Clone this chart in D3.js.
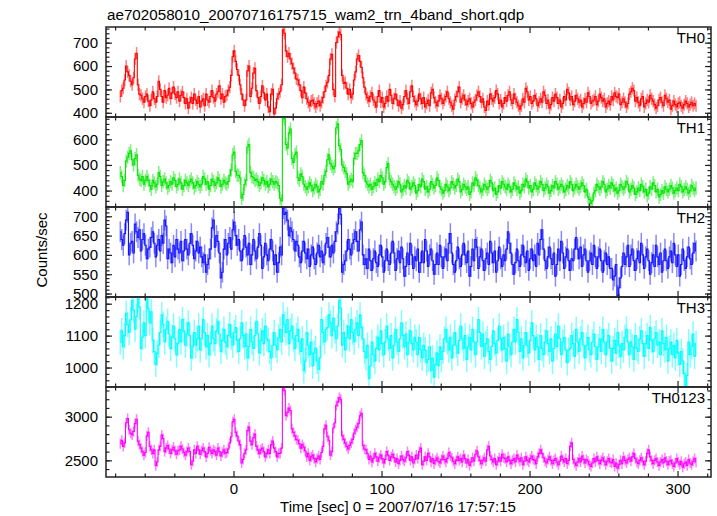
<!DOCTYPE html>
<html><head><meta charset="utf-8">
<script src="https://cdn.jsdelivr.net/npm/d3@7"></script>
<style>body{margin:0;background:#fff}svg{display:block;font-family:"Liberation Sans",Arial,Helvetica,sans-serif}</style>
</head><body><svg id="c" width="717" height="516"></svg>
<script>
const titleText = "ae702058010_20070716175715_wam2_trn_4band_short.qdp";
const xLabelText = "Time [sec] 0 = 2007/07/16 17:57:15";
const yLabelText = "Counts/sec";
const tStart = -76.5, binSize = 1;
const xTicksMajor = [0, 100, 200, 300];
const xTickLabels = ["0", "100", "200", "300"];

const th0 = [
470,495,505,540,600,575,560,535,520,550,630,655,520,480,475,460,445,470,480,450,
430,455,490,460,445,470,535,500,470,445,495,465,475,505,460,485,510,480,465,490,
450,475,490,465,440,460,420,445,465,440,480,455,440,470,425,450,460,430,480,455,
445,470,495,465,450,480,490,515,460,480,445,470,475,495,510,560,640,665,620,585,
560,520,480,455,430,455,580,600,470,505,570,590,495,465,440,470,515,485,455,480,
425,405,480,500,395,420,460,480,490,520,755,740,665,640,655,630,610,590,570,545,
540,520,495,465,510,485,460,445,430,450,455,440,425,440,450,430,445,465,490,515,
530,560,630,650,500,470,700,725,745,735,560,525,530,505,480,500,465,480,540,575,
630,645,620,595,550,510,480,465,450,470,485,455,445,425,470,495,445,465,425,440,
470,450,500,475,440,460,480,455,430,450,420,435,470,495,460,440,490,515,470,450,
435,450,480,460,440,465,425,440,455,430,485,500,465,445,430,450,475,460,440,455,
470,490,460,445,430,415,455,470,490,510,445,460,475,455,435,450,460,440,425,445,
455,475,490,470,445,460,425,410,450,435,480,460,450,465,495,480,440,455,425,440,
465,450,475,490,455,440,480,460,445,430,415,430,460,445,505,490,455,470,440,450,
475,460,430,445,460,445,490,475,440,455,420,435,465,450,480,465,440,455,425,440,
470,455,500,485,455,470,435,450,475,460,445,455,425,440,460,445,485,470,440,450,
455,470,435,450,480,465,450,460,425,440,450,435,470,455,485,470,465,480,435,445,
460,445,425,440,480,490,505,495,450,465,445,430,460,470,425,440,455,445,475,460,
450,435,420,430,455,465,445,430,475,460,445,455,415,430,450,435,425,440,445,430,
420,435,450,440,425,435,445,430,440,430];
const th1 = [
470,455,420,440,515,530,545,555,520,500,525,540,460,445,440,455,425,440,455,440,
420,405,440,430,415,425,470,455,420,435,445,430,410,420,435,425,450,440,415,425,
445,430,405,420,440,430,420,435,445,430,410,420,435,425,415,425,455,445,425,435,
405,420,445,435,420,430,450,440,415,425,440,430,425,435,460,480,540,550,475,460,
460,450,370,385,425,440,570,580,470,455,450,440,445,435,420,430,450,440,425,435,
415,425,445,435,425,435,430,420,370,360,690,680,580,565,625,640,525,510,540,550,
450,440,465,455,425,415,405,415,430,420,400,410,425,415,395,405,435,425,460,475,
520,540,505,495,485,495,645,660,575,560,500,490,475,465,425,435,445,435,525,545,
545,555,580,595,470,460,435,425,415,425,405,415,430,420,445,435,460,450,425,435,
490,505,445,435,425,415,405,415,435,425,395,405,420,410,440,430,405,415,430,420,
390,400,425,415,445,435,405,415,395,405,435,425,410,420,450,440,415,405,390,400,
425,415,400,410,435,425,410,420,445,435,395,405,425,415,405,415,385,395,430,420,
450,440,420,410,395,405,425,415,405,415,440,430,400,410,385,395,420,410,435,425,
415,405,425,415,395,405,430,420,405,415,390,400,425,415,445,435,410,420,395,405,
430,420,405,415,435,425,400,410,425,415,390,400,420,410,435,425,405,415,425,415,
395,405,420,410,435,425,400,410,425,415,405,415,430,420,395,405,375,365,350,360,
390,400,425,415,405,415,435,425,395,405,420,410,430,420,400,410,390,400,425,415,
405,415,435,425,395,405,420,410,385,395,410,400,425,415,395,405,380,390,415,405,
430,420,395,405,375,385,400,390,415,405,395,405,420,410,390,400,410,400,425,415,
395,405,415,405,390,400,420,410,400,410];
const th2 = [
660,640,625,655,690,710,600,630,635,605,680,660,645,665,610,640,655,625,590,615,
620,645,660,630,595,625,640,610,650,630,690,675,590,615,605,580,625,595,640,615,
605,635,585,610,640,615,600,630,655,625,590,610,635,605,620,595,580,600,555,575,
590,615,670,690,620,650,635,605,540,555,615,640,600,630,645,615,665,685,650,625,
640,610,585,615,650,620,600,630,575,600,640,610,590,620,655,625,565,595,630,600,
585,615,640,610,575,600,555,580,620,600,720,705,710,690,650,670,660,640,610,635,
625,595,580,610,635,605,590,615,570,600,620,590,575,605,625,595,610,580,600,630,
645,620,595,625,605,635,660,680,720,705,555,575,585,610,640,615,600,630,640,660,
635,610,665,685,600,575,590,565,615,585,560,590,610,580,570,600,625,595,555,585,
615,585,575,605,635,605,560,590,610,580,620,590,545,570,605,575,630,600,565,595,
585,615,555,580,610,580,640,610,570,600,615,585,550,575,605,575,625,595,565,595,
615,585,630,655,605,575,555,585,620,590,570,600,630,600,580,610,545,570,615,585,
640,620,565,595,615,585,560,590,605,575,635,605,580,610,555,585,620,590,570,600,
585,615,660,630,605,575,550,580,615,585,570,600,625,595,580,610,560,590,615,585,
600,570,630,600,640,665,615,585,565,595,620,590,575,605,545,575,615,585,635,605,
565,595,615,585,560,590,585,615,645,615,590,620,570,600,615,585,555,585,605,575,
625,595,565,595,615,585,555,585,605,575,595,565,565,535,545,575,495,515,540,570,
605,575,595,625,570,600,615,585,560,590,610,580,630,600,565,595,615,585,550,580,
600,570,625,595,575,605,555,585,615,585,565,595,610,580,630,600,570,600,545,575,
615,585,565,595,620,590,575,605,630,610];
const th3 = [
1080,1115,1065,1100,1170,1135,1110,1150,1210,1180,1120,1160,1215,1190,1060,1095,1140,1100,1215,1185,
1140,1175,1085,1050,1010,1045,1070,1110,1165,1135,1080,1120,1145,1105,1060,1095,1130,1090,1040,1075,
1120,1080,1150,1115,1070,1105,1140,1100,1030,1065,1110,1070,1090,1130,1055,1090,1150,1110,1065,1100,
1040,1075,1130,1090,1075,1115,1145,1105,1050,1085,1120,1080,1065,1100,1135,1095,1070,1110,1125,1085,
1050,1090,1140,1100,1065,1105,1030,1065,1120,1080,1060,1100,1145,1105,1045,1085,1115,1075,1130,1090,
1085,1050,1030,1070,1110,1070,1055,1095,1120,1080,1165,1135,1110,1150,1075,1115,1130,1090,1060,1100,
1120,1080,1050,1090,990,1020,1110,1070,1040,1080,1005,1045,1060,1020,995,1030,1150,1110,1080,1120,
1125,1165,1140,1100,1155,1115,1090,1130,1210,1185,1070,1110,1055,1095,1130,1090,1150,1110,1080,1120,
1140,1100,1165,1125,1090,1050,1030,1070,965,1005,1080,1040,1020,1060,1095,1055,1115,1075,1040,1080,
1130,1090,1060,1100,1030,1070,1120,1080,1050,1090,1140,1100,1065,1105,1040,1080,1115,1075,1055,1095,
1080,1040,1095,1055,1030,1070,1055,1015,1025,1065,990,1030,970,1010,1045,1005,1065,1025,1050,1090,
1120,1080,1055,1095,1030,1070,1110,1070,1045,1085,1130,1090,1060,1100,1025,1065,1095,1055,1120,1080,
1040,1080,1150,1110,1065,1105,1035,1075,1090,1050,1025,1065,1115,1075,1045,1085,1130,1090,1055,1095,
1060,1020,1105,1065,1040,1080,1120,1080,1150,1110,1050,1090,1030,1070,1110,1070,1045,1085,1140,1100,
1055,1095,1065,1025,1100,1060,1040,1080,1115,1075,1050,1090,1020,1060,1105,1065,1130,1090,1040,1080,
1095,1055,1015,1055,1060,1100,1075,1035,1120,1080,1050,1090,1110,1070,1030,1070,1095,1055,1040,1080,
1105,1065,1025,1065,1090,1050,1120,1080,1040,1080,1100,1060,1020,1060,1085,1045,1110,1070,1035,1075,
1055,1095,1120,1080,1040,1080,1065,1025,1100,1060,1050,1090,1115,1075,1035,1075,1100,1060,1125,1085,
1050,1090,1110,1070,1080,1040,1115,1075,1055,1095,1020,1060,1080,1040,1070,1030,1085,1045,1010,1050,
1020,980,945,975,1080,1040,1065,1105,1035,1075];
const th0123 = [
2690,2730,2660,2700,2930,2980,2850,2810,2790,2830,2920,2970,2720,2680,2640,2600,2560,2590,2780,2820,
2660,2620,2580,2620,2440,2480,2620,2660,2790,2750,2600,2640,2670,2630,2580,2620,2650,2610,2570,2610,
2620,2660,2630,2590,2560,2600,2640,2600,2450,2490,2620,2580,2660,2620,2570,2610,2640,2600,2540,2580,
2650,2610,2580,2620,2600,2560,2640,2600,2550,2590,2620,2580,2590,2630,2700,2770,2940,2970,2820,2780,
2720,2680,2470,2510,2580,2620,2840,2880,2720,2680,2760,2800,2660,2620,2580,2620,2640,2600,2540,2580,
2620,2580,2680,2720,2640,2600,2540,2580,2580,2640,3340,3300,3010,3050,3100,3070,2860,2820,2780,2740,
2730,2690,2640,2680,2650,2610,2540,2580,2500,2540,2560,2520,2480,2520,2550,2510,2590,2660,2860,2900,
2770,2730,2560,2600,2870,2930,3130,3170,3220,3200,2780,2740,2700,2660,2630,2670,2700,2740,2810,2850,
2880,2920,3010,3040,2670,2630,2620,2580,2510,2550,2480,2520,2580,2540,2490,2530,2560,2520,2470,2510,
2600,2560,2500,2540,2570,2530,2480,2520,2460,2500,2550,2510,2490,2530,2600,2560,2500,2540,2470,2510,
2560,2520,2600,2640,2450,2490,2540,2500,2580,2540,2480,2520,2460,2500,2530,2490,2470,2510,2550,2510,
2480,2520,2590,2550,2530,2490,2460,2500,2540,2500,2520,2480,2560,2520,2470,2510,2440,2480,2530,2490,
2570,2610,2540,2500,2460,2500,2530,2490,2620,2660,2550,2510,2480,2520,2450,2490,2530,2490,2570,2530,
2520,2480,2540,2500,2460,2500,2520,2480,2560,2520,2490,2530,2450,2490,2540,2500,2480,2520,2550,2510,
2500,2460,2540,2580,2620,2580,2530,2490,2470,2510,2540,2500,2460,2500,2520,2480,2450,2490,2550,2510,
2480,2520,2460,2500,2660,2700,2510,2470,2440,2480,2520,2480,2550,2510,2470,2510,2490,2450,2430,2470,
2520,2480,2540,2500,2460,2500,2530,2490,2450,2490,2520,2480,2470,2510,2430,2470,2410,2450,2500,2460,
2540,2500,2470,2510,2530,2490,2540,2580,2520,2480,2460,2500,2530,2490,2450,2490,2580,2620,2540,2500,
2460,2500,2520,2480,2440,2480,2510,2470,2530,2490,2450,2490,2500,2460,2430,2470,2520,2480,2450,2490,
2420,2460,2480,2440,2510,2470,2450,2490,2520,2480];

const panelNames = ["TH0", "TH1", "TH2", "TH3", "TH0123"];
const panelSeries = [th0, th1, th2, th3, th0123];
const panelErrors = [26, 26, 27, 40, 58];
const yDomains = [[382, 767], [336, 687], [491, 724], [939, 1221], [2309, 3340]];
const yMajorTicks = [[400,500,600,700],[400,500,600],[500,550,600,650,700],[1000,1100,1200],[2500,3000]];
const yMinorStep = [20, 20, 10, 20, 100];
const colors = ["#ff0000", "#00e600", "#1414ff", "#00ffff", "#ff00ff"];

const svg = d3.select("#c");
const L = 106, R = 711, T = 27, B = 477;
const nP = 5, pH = (B - T) / nP;
const x = d3.scaleLinear().domain([-86.15, 322.6]).range([L, R]);
const xMinor = d3.range(-80, 321, 20).filter(v => v % 100 !== 0);
const fmt = d3.format("d");

const defs = svg.append("defs");

panelSeries.forEach((vals, p) => {
  const times = vals.map((_, i) => tStart + i * binSize);
  const top = T + p * pH, bot = top + pH;
  const y = d3.scaleLinear().domain(yDomains[p]).range([bot, top]);
  const g = svg.append("g");
  const cid = "clip" + p;
  defs.append("clipPath").attr("id", cid).append("rect")
    .attr("x", L).attr("y", top).attr("width", R - L).attr("height", pH);
  const dg = g.append("g").attr("clip-path", `url(#${cid})`);
  const err = panelErrors[p];
  dg.selectAll("line.e").data(vals).join("line")
    .attr("x1", (d, i) => x(times[i])).attr("x2", (d, i) => x(times[i]))
    .attr("y1", d => y(d - err)).attr("y2", d => y(d + err))
    .attr("stroke", colors[p]).attr("stroke-opacity", 0.5).attr("stroke-width", 1.5);
  const line = d3.line().x((d, i) => x(times[i])).y(d => y(d)).curve(d3.curveStep);
  dg.append("path").datum(vals).attr("d", line)
    .attr("fill", "none").attr("stroke", colors[p]).attr("stroke-width", 1.1);

  const minorY = d3.range(Math.ceil(yDomains[p][0] / yMinorStep[p]) * yMinorStep[p], yDomains[p][1], yMinorStep[p]);
  const aL = g.append("g").attr("transform", `translate(${L},0)`).call(d3.axisLeft(y).tickValues(yMajorTicks[p]).tickSizeInner(-6).tickSizeOuter(0).tickPadding(8).tickFormat(fmt));
  const aLm = g.append("g").attr("transform", `translate(${L},0)`).call(d3.axisLeft(y).tickValues(minorY).tickSizeInner(-3.5).tickSizeOuter(0).tickFormat(""));
  const aR = g.append("g").attr("transform", `translate(${R},0)`).call(d3.axisRight(y).tickValues(yMajorTicks[p]).tickSizeInner(-6).tickSizeOuter(0).tickFormat(""));
  const aRm = g.append("g").attr("transform", `translate(${R},0)`).call(d3.axisRight(y).tickValues(minorY).tickSizeInner(-3.5).tickSizeOuter(0).tickFormat(""));
  const aT = g.append("g").attr("transform", `translate(0,${top})`).call(d3.axisTop(x).tickValues(xTicksMajor).tickSizeInner(-6).tickSizeOuter(0).tickFormat(""));
  const aTm = g.append("g").attr("transform", `translate(0,${top})`).call(d3.axisTop(x).tickValues(xMinor).tickSizeInner(-3.5).tickSizeOuter(0).tickFormat(""));
  const aB = g.append("g").attr("transform", `translate(0,${bot})`).call(d3.axisBottom(x).tickValues(xTicksMajor).tickSizeInner(-6).tickSizeOuter(0).tickPadding(6)
      .tickFormat((d, i) => p === nP - 1 ? xTickLabels[i] : ""));
  const aBm = g.append("g").attr("transform", `translate(0,${bot})`).call(d3.axisBottom(x).tickValues(xMinor).tickSizeInner(-3.5).tickSizeOuter(0).tickFormat(""));
  [aL, aLm, aR, aRm, aT, aTm, aB, aBm].forEach(a => {
    a.select(".domain").remove();
    a.selectAll("line").attr("stroke", "#222").attr("stroke-width", 1.2);
    a.selectAll("text").attr("font-size", 15).attr("fill", "#000").attr("font-family", "Liberation Sans, Arial, sans-serif");
  });
  g.append("rect").attr("x", L).attr("y", top).attr("width", R - L).attr("height", pH)
    .attr("fill", "none").attr("stroke", "#222").attr("stroke-width", 1.5);
  g.append("text").attr("x", 705).attr("y", top + 16).attr("text-anchor", "end")
    .attr("font-size", 15).text(panelNames[p]);
});

svg.append("text").attr("x", 107).attr("y", 20).attr("font-size", 15.2).text(titleText);
svg.append("text").attr("x", 398).attr("y", 512).attr("text-anchor", "middle").attr("font-size", 15).text(xLabelText);
svg.append("text").attr("transform", "translate(47,250) rotate(-90)").attr("text-anchor", "middle").attr("font-size", 15).text(yLabelText);
</script></body></html>
